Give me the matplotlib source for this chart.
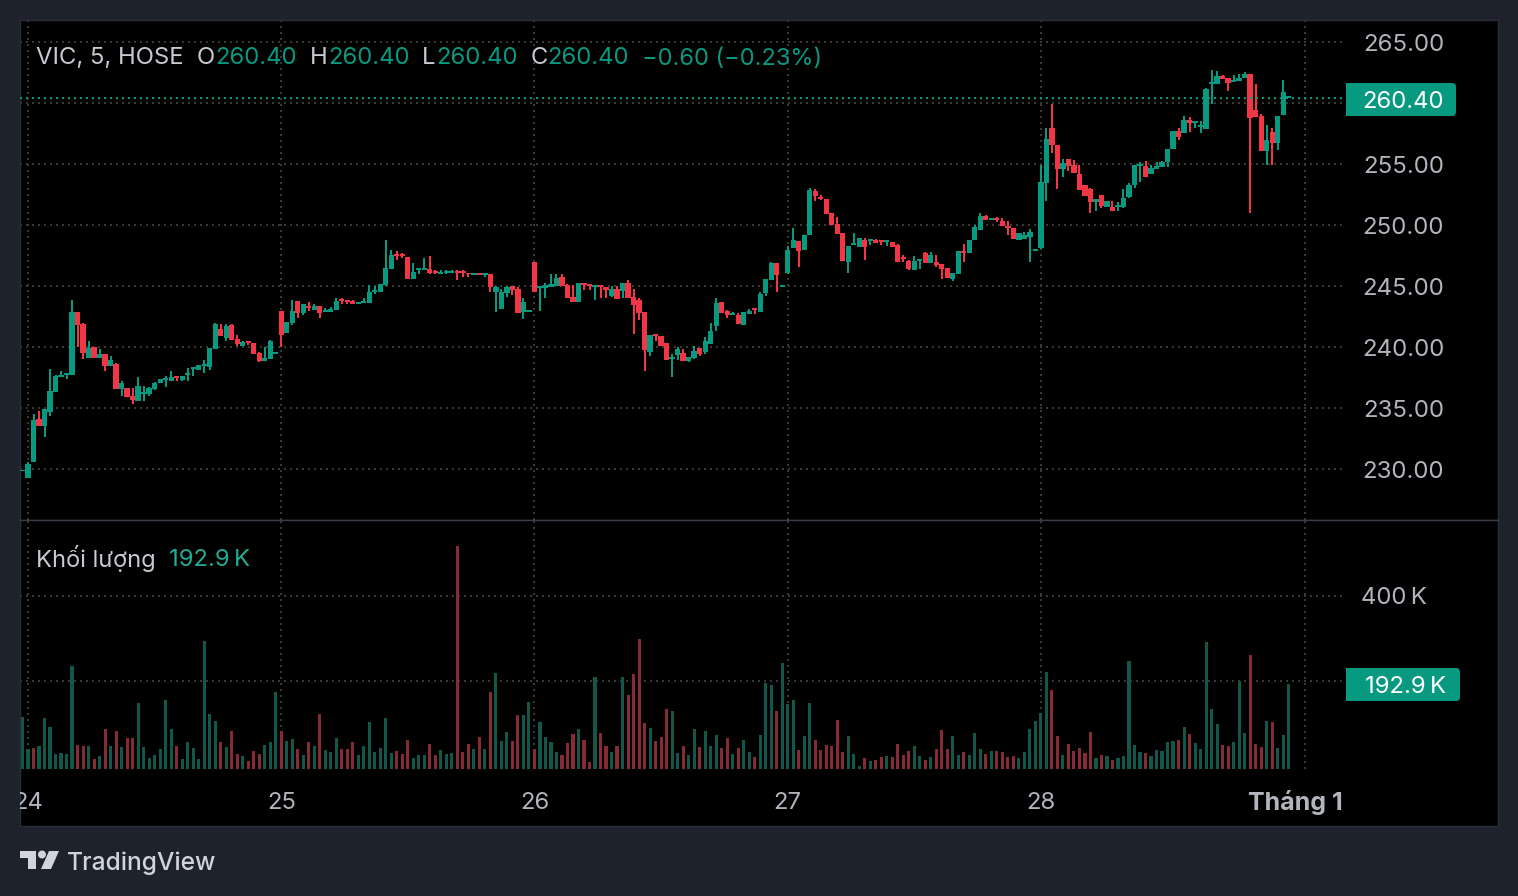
import numpy as np
import matplotlib
matplotlib.use("Agg")
import matplotlib.pyplot as plt
from matplotlib.patches import Circle, FancyBboxPatch, Polygon, Rectangle

plt.rcParams['font.family'] = ['Inter', 'DejaVu Sans']

# 5 minute bars, the first one is the last bar of the day before the 24th
opens = [229.8,
    229.3,230.6,234.1,233.55,234.7,236.35,237.55,237.7,237.7,242.85,
    241.9,239.1,240.0,239.1,239.4,238.45,238.6,236.55,236.65,236.0,
    235.6,236.15,236.15,236.55,237.05,237.3,237.2,237.6,237.3,237.7,
    238.2,238.1,238.45,238.35,239.85,241.5,240.75,241.8,240.65,240.1,
    240.5,240.35,239.5,238.85,239.0,239.4,242.95,241.15,241.95,243.75,
    242.8,243.35,243.05,243.35,242.85,242.85,243.05,243.9,243.8,243.75,
    243.5,243.6,243.6,244.5,244.5,245.1,246.4,247.6,247.55,247.4,
    245.55,246.3,246.3,246.4,246.2,246.0,246.05,246.05,246.2,246.15,
    246.05,245.9,246.05,245.9,246.0,244.5,243.1,244.4,245.0,244.75,
    242.85,242.85,247.0,244.85,244.85,244.9,245.0,245.75,245.1,244.1,
    243.7,245.25,245.15,244.95,245.05,244.9,244.2,244.75,244.6,245.25,
    244.1,243.85,242.85,239.6,241.05,240.9,240.35,239.0,239.35,239.5,
    238.85,239.1,239.9,239.6,240.25,241.7,243.7,242.95,242.6,242.6,
    241.8,242.7,243.2,242.85,244.4,245.5,246.9,244.9,246.05,248.1,
    248.7,247.95,249.2,252.8,252.3,252.15,251.0,250.1,249.35,247.0,
    248.35,248.2,248.75,248.7,248.8,248.75,248.6,248.6,248.35,247.4,
    247.05,246.3,247.05,247.7,246.9,247.0,246.8,246.45,245.55,246.0,
    247.8,247.7,248.75,249.6,250.75,250.4,250.55,250.3,249.9,249.75,
    248.75,248.85,249.0,247.85,248.1,253.45,257.95,256.55,254.6,255.4,
    254.9,254.2,253.3,252.95,251.9,252.45,251.5,251.5,251.45,251.5,
    252.3,253.3,254.85,254.85,254.2,254.6,254.75,255.15,256.2,257.7,
    257.55,258.6,258.35,258.05,257.85,261.55,261.55,262.2,262.05,261.7,
    261.8,262.05,262.4,259.4,258.95,256.05,257.6,256.7,259.0,260.4]

closes = [229.8,
    230.4,234.0,233.55,234.9,236.4,237.6,237.7,237.8,242.85,241.8,
    239.5,239.9,239.1,239.4,238.45,238.95,236.55,237.05,235.9,235.65,
    236.8,236.2,236.65,237.05,237.4,237.4,237.55,237.5,237.6,237.8,
    238.3,238.5,238.5,239.9,241.9,240.9,241.7,240.55,240.25,240.4,
    240.35,239.45,238.85,239.1,240.5,239.55,241.0,242.05,242.95,242.8,
    243.5,243.2,243.35,242.8,243.05,243.1,243.75,243.75,243.7,243.5,
    243.65,243.75,244.5,244.65,245.15,246.5,247.55,247.45,247.45,245.55,
    246.15,246.4,246.5,246.05,246.05,246.15,246.2,246.2,246.1,246.05,
    245.95,246.05,245.9,246.05,244.9,244.9,244.5,244.9,244.65,242.8,
    243.7,243.0,244.5,244.9,245.05,245.15,245.65,245.0,244.0,243.7,
    245.25,245.1,245.0,245.1,244.9,244.65,244.75,243.95,245.25,244.0,
    243.45,242.8,239.75,241.0,240.9,240.1,238.95,239.2,239.85,238.85,
    239.2,239.65,239.4,240.5,241.3,243.6,242.8,242.6,242.8,241.9,
    242.85,242.95,243.05,244.35,245.55,246.9,245.9,245.05,247.95,248.75,
    247.85,249.2,252.85,252.4,252.15,250.9,250.0,249.25,247.05,248.3,
    248.5,248.9,248.2,248.8,248.55,248.6,248.7,248.2,247.0,247.2,
    246.4,247.05,247.1,246.9,247.55,246.7,246.4,245.65,246.05,247.85,
    247.7,248.75,249.85,250.75,250.4,250.55,250.4,249.9,249.75,248.85,
    249.35,249.2,249.45,248.0,253.5,257.05,256.55,254.6,255.1,254.85,
    254.25,252.85,252.4,251.9,252.15,251.55,252.0,251.15,251.65,252.2,
    253.3,254.9,255.0,253.95,254.65,254.85,255.15,256.2,257.7,257.2,
    258.6,258.35,258.5,258.2,261.15,261.7,262.2,261.95,261.65,261.9,
    262.05,262.4,258.75,258.85,256.05,256.95,256.7,258.95,260.9,260.4]

highs = [229.8,
    230.6,234.5,234.75,234.9,238.2,237.7,238.0,237.8,243.85,242.85,
    242.0,240.5,240.0,239.85,239.45,239.25,238.65,237.2,236.65,236.65,
    237.55,236.8,236.7,237.1,237.4,237.6,238.0,237.6,237.65,238.3,
    238.3,238.5,238.95,239.9,242.0,241.9,241.9,241.9,241.0,240.5,
    240.5,240.35,239.55,240.0,240.55,239.6,242.95,242.05,243.85,243.75,
    243.5,243.7,243.5,243.35,243.2,243.25,244.0,244.0,243.85,243.85,
    243.65,244.0,245.1,245.0,245.15,248.75,247.95,247.85,247.7,247.4,
    246.9,246.5,247.3,247.45,246.3,246.3,246.3,246.3,246.3,246.3,
    246.05,246.05,246.05,246.05,246.0,245.0,244.75,245.0,245.0,244.9,
    244.0,243.0,247.0,244.95,245.25,246.0,246.0,246.0,245.15,245.1,
    245.25,245.25,245.15,245.1,245.05,244.9,245.0,245.0,245.25,245.5,
    244.75,244.0,242.85,241.0,241.05,240.9,240.35,239.4,240.0,239.85,
    239.2,240.1,239.9,240.8,241.95,244.0,243.7,243.0,242.85,242.8,
    242.9,243.1,243.2,244.5,245.55,247.0,246.9,245.1,248.3,249.75,
    248.7,249.2,253.05,252.95,252.45,252.15,251.0,250.65,249.35,248.3,
    249.35,248.9,248.95,248.8,248.85,248.8,248.7,248.6,248.45,247.55,
    247.15,247.45,247.1,247.8,247.8,247.55,246.8,246.45,246.05,247.85,
    248.45,248.75,250.0,250.95,250.8,250.6,250.65,250.55,250.3,249.75,
    249.35,249.45,249.65,248.0,254.9,257.95,259.9,256.55,255.4,255.4,
    255.35,254.9,253.3,253.05,252.15,252.45,252.0,252.0,251.9,252.95,
    253.45,254.9,255.15,255.25,254.9,255.15,255.25,256.2,257.7,257.95,
    258.95,258.85,258.55,258.5,261.2,262.7,262.6,262.3,262.05,262.3,
    262.4,262.55,262.4,261.55,259.1,258.2,257.95,258.95,261.9,260.4]

lows = [229.8,
    229.3,230.6,233.55,232.65,234.35,236.35,237.55,237.4,237.7,240.0,
    239.0,239.1,239.1,239.1,238.05,238.45,236.55,236.0,235.9,235.35,
    235.6,235.55,236.0,236.5,237.05,236.7,237.2,237.2,237.25,237.2,
    237.6,238.1,237.85,238.1,239.85,240.9,240.5,240.55,240.1,240.1,
    240.15,239.45,238.8,238.85,239.0,239.4,240.0,241.15,241.8,242.4,
    242.6,242.95,243.0,242.4,242.85,242.85,243.05,243.5,243.5,243.5,
    243.5,243.6,243.6,244.35,244.5,245.0,246.4,247.15,247.3,245.55,
    245.55,246.0,246.3,246.0,246.0,246.0,246.0,246.05,245.5,245.75,
    245.75,245.9,245.9,245.75,244.5,242.85,243.1,244.1,244.25,242.8,
    242.3,242.85,244.5,242.95,244.0,244.9,245.0,245.0,244.0,243.7,
    243.7,244.65,244.65,243.85,244.0,244.0,244.1,243.95,244.0,244.0,
    241.05,242.2,238.05,239.25,240.5,240.1,238.95,237.55,238.95,238.85,
    238.75,239.0,239.25,239.4,240.25,241.3,242.8,242.4,242.6,241.9,
    241.8,242.7,242.7,242.85,244.2,245.5,244.5,244.9,246.0,248.1,
    246.55,247.95,249.2,252.0,252.05,250.9,250.0,249.25,247.05,246.05,
    248.35,248.2,247.1,248.35,248.55,248.35,248.3,248.2,247.0,247.0,
    246.3,246.3,246.4,246.85,246.9,246.55,245.55,245.65,245.4,246.0,
    247.0,247.7,248.75,249.6,250.4,250.4,250.25,249.9,249.2,248.85,
    248.75,248.85,246.95,247.85,248.0,251.95,255.9,252.95,253.95,254.4,
    254.25,252.85,252.4,251.0,251.15,251.4,251.45,251.15,251.15,251.4,
    252.2,253.05,253.5,253.95,254.2,254.6,254.75,254.75,256.2,256.95,
    257.55,257.6,257.95,257.55,257.85,259.9,261.55,261.95,261.0,261.7,
    261.8,262.05,251.0,258.85,256.05,254.9,254.9,256.15,259.0,260.4]

# volume in thousands, g / r is the colour of each bar
volume_a = [116,41,43,48,114,92,29,32,29,235,50,48,48,18,25,88,48,83,46,67,67,149,46,20,27,41,156,88,48,18,
    57,43,18,294,123,106,57,46,83,29,25,13,36,29,50,57,174,83,60,64,41,27,57,48,123,39,34,67,41,41,
    57,27,48,104,34,43,114,32,36,29,62,20,27,27,53,27,39,29]
volume_a_dir = "ggrggggggg" "rrgrgrgrgr" "rgggggggrg" "ggggggrgrr" "grrrgggrgg" "rgrgrgggrr" "rgggggggrr" "rgggrrgg"
volume_b = [32,516,34,53,41,69,41,174,219,60,81,60,121,121,151,41,104,69,57,34,27,55,76,88,62,10,209,78,48,34,
    48,209,167,216,298,102,90,60,69,135,130,32,48,27,88,46,83,48,74,43,67,29,43,62,34,22,74,195,191,130,
    242,146,156,39,71,149,62,39,50,48,109,34,71,29,1,20,13,15]
volume_b_dir = "grrrgrgrgg" "grrggrgggg" "rrrgrrgrrg" "rgrrrrgrrr" "ggrggrgggr" "rgrggrgggr" "gggrggrrrr" "rrgggrgr"
volume_c = [22,25,22,53,27,36,48,25,15,22,41,85,41,71,27,34,27,78,41,29,36,36,34,22,25,20,34,88,106,125,
    221,179,71,27,53,36,43,32,81,20,27,25,15,20,25,247,50,34,32,25,39,36,57,60,62,92,76,55,41,291,
    135,100,50,48,57,200,78,261,53,46,106,104,43,74,192.9]
volume_c_dir = "rgrrrrggrg" "rrrggrgggr" "grrrrggggg" "grrgrrrrrg" "rgrgggggrg" "ggggrgrggg" "ggrrgggrrr" "grggg"

price_ticks = [230, 235, 240, 245, 250, 255, 260, 265]
volume_ticks = [200, 400]
day_ticks = [0, 46, 92, 138, 184]
day_labels = ["24", "25", "26", "27", "28"]
month_tick = 232
last_price = 260.40

UP = "#089981"
DOWN = "#f23645"
VOL_UP = "#12574a"
VOL_DOWN = "#842b33"
GRID = "#383838"
LABEL = "#b2b5be"
BG = "#1e222d"
DOTS = (0, (1, 2))

W, H = 1518, 896
BAR_STEP = 5.505  # pixels per bar
BAR_ORIGIN = 28   # pixel of the 24th


def fx(px):
    return px / W


def fy(py):
    return 1 - py / H


def axes_rect(left, top, right, bottom):
    return [fx(left), fy(bottom), (right - left) / W, (bottom - top) / H]


def px_to_bar(px):
    return (px - BAR_ORIGIN) / BAR_STEP


def label(x, y, s, color=LABEL, size=17.2, ha="left", **kw):
    fig.text(fx(x), fy(y), s, color=color, fontsize=size, ha=ha, va="center_baseline", **kw)


def price_tag(left, top, right, bottom, s, text_x):
    # square on the left, rounded on the right
    fig.add_artist(FancyBboxPatch((left, H - bottom), right - left, bottom - top,
                                  boxstyle="round,pad=0,rounding_size=4", fc=UP, ec="none",
                                  transform=None))
    fig.add_artist(Rectangle((left, H - bottom), 10, bottom - top, fc=UP, ec="none", transform=None))
    label(text_x, (top + bottom) / 2, s, color="white", ha="center")


opens = np.array(opens)
closes = np.array(closes)
highs = np.array(highs)
lows = np.array(lows)
bars = np.arange(len(opens)) - 1

volume = np.array(volume_a + volume_b + volume_c, dtype=float)
vol_dirs = volume_a_dir + volume_b_dir + volume_c_dir
vol_x = np.arange(len(volume)) - 1
vol_colors = [VOL_UP if d == "g" else VOL_DOWN for d in vol_dirs]

fig = plt.figure(figsize=(W / 100, H / 100), dpi=100, facecolor=BG)

ax = fig.add_axes(axes_rect(20, 20, 1498, 520), facecolor="black")
vax = fig.add_axes(axes_rect(20, 520, 1498, 826), facecolor="black")

xlim = (px_to_bar(20), px_to_bar(1498))
grid_end = px_to_bar(1343)
ax.set_xlim(xlim)
vax.set_xlim(xlim)
ax.set_ylim(230 + (469 - 520) / 12.2, 230 + (469 - 20) / 12.2)
vax.set_ylim((766.5 - 826) / 0.4275, (766.5 - 520) / 0.4275)
vol_floor = (766.5 - 769) / 0.4275

for a in (ax, vax):
    a.set_xticks([])
    a.set_yticks([])
    for s in a.spines.values():
        s.set_color("#2a2e39")
        s.set_linewidth(1)
ax.spines["bottom"].set_color("#3a3e49")
vax.spines["top"].set_color("#3a3e49")

# grid
grid_kw = dict(color=GRID, linewidth=1.44, linestyles=[DOTS], zorder=1)
ax.hlines(price_ticks, xlim[0], grid_end, **grid_kw)
vax.hlines(volume_ticks, xlim[0], grid_end, **grid_kw)
ax.vlines(day_ticks + [month_tick], *ax.get_ylim(), **grid_kw)
vax.vlines(day_ticks + [month_tick], vol_floor, vax.get_ylim()[1], **grid_kw)

# candles
colors = [UP if c >= o else DOWN for o, c in zip(opens, closes)]
ax.vlines(bars, lows, highs, colors=colors, linewidth=1.44, zorder=3)
body_bottom = np.minimum(opens, closes)
body_height = np.maximum(np.abs(closes - opens), 0.14)
ax.bar(bars, body_height, bottom=body_bottom, width=0.95, color=colors, linewidth=0, zorder=3)

# last price line
ax.hlines(last_price, xlim[0], grid_end, color=UP, linewidth=1.44, linestyles=[DOTS], zorder=4)

# volume
vax.bar(vol_x, volume - vol_floor, bottom=vol_floor, width=0.56, color=vol_colors, linewidth=0, zorder=2)

# price axis
for p in price_ticks:
    if p != 260:
        ax.text(px_to_bar(1403.5), p - 0.05, f"{p:.2f}", color=LABEL, fontsize=17.3, ha="center", va="center_baseline")
vax.text(px_to_bar(1394), 400, "400\u2009K", color=LABEL, fontsize=17.2, ha="center", va="center_baseline")

price_tag(1346, 83, 1456, 116, f"{last_price:.2f}", 1403.5)
price_tag(1346, 668, 1460, 701, "192.9\u2009K", 1406)

# time axis
time_y = (766.5 - 800) / 0.4275
for t, s in zip(day_ticks, day_labels):
    vax.text(t, time_y, s, color=LABEL, fontsize=17.2, ha="center", va="center_baseline", clip_on=True)
vax.text(px_to_bar(1295.5), time_y, "Tháng 1", color=LABEL, fontsize=18, ha="center", va="center_baseline",
         fontweight="bold")

# legends
label(36, 56, "VIC, 5, HOSE", color="#c8cad2")
for letter, lx, vx in [("O", 197, 215.5), ("H", 310, 328), ("L", 422, 436), ("C", 531, 547)]:
    label(lx, 56, letter, color="#c8cad2")
    label(vx, 56, "260.40", color=UP)
label(641.5, 56, "\u22120.60 (\u22120.23%)", color=UP, size=17)
label(36, 556, "Khối lượng", color="#c8cad2", size=17)
label(169, 557, "192.9\u2009K", color="#22ab94")

# TradingView mark
LOGO = "#d1d4dc"
fig.add_artist(Polygon([(20, H - 851), (36, H - 851), (36, H - 869), (28, H - 869), (28, H - 858), (20, H - 858)],
                       fc=LOGO, ec="none", transform=None))
fig.add_artist(Circle((42, H - 854.5), 4, fc=LOGO, ec="none", transform=None))
fig.add_artist(Polygon([(49, H - 851), (59, H - 851), (51, H - 869), (41, H - 869)],
                       fc=LOGO, ec="none", transform=None))
label(66.5, 861, "TradingView", color=LOGO, size=17.7, fontweight="medium")

fig.savefig("out.png", dpi=100, facecolor=BG)
